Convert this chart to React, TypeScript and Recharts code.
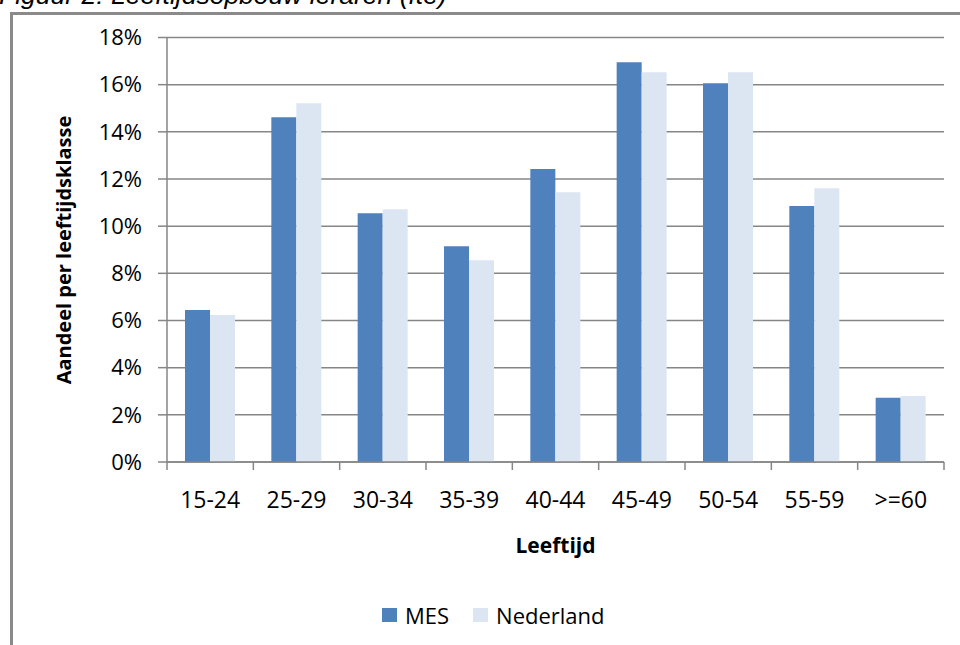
import React from "react";
import { BarChart, Bar, XAxis, YAxis, CartesianGrid, Label } from "recharts";

const categories = ["15-24", "25-29", "30-34", "35-39", "40-44", "45-49", "50-54", "55-59", ">=60"];
const mesValues = [6.44, 14.62, 10.55, 9.15, 12.42, 16.95, 16.06, 10.85, 2.72];
const nederlandValues = [6.23, 15.21, 10.72, 8.56, 11.44, 16.53, 16.53, 11.61, 2.8];
const yTicks = [0, 2, 4, 6, 8, 10, 12, 14, 16, 18];
const seriesNames = ["MES", "Nederland"];
const seriesColors = ["#4F81BD", "#DCE6F2"];

const FONT = "'Open Sans', sans-serif";
const GRID = "#868686";
const PLOT_LEFT = 167;
const PLOT_RIGHT = 944;
const HALF_BAND = (PLOT_RIGHT - PLOT_LEFT) / categories.length / 2;

const data = categories.map((c, i) => ({
  name: c,
  MES: mesValues[i],
  Nederland: nederlandValues[i],
}));

// Excel-style: tick marks between categories, label in the middle
function XTick(props: any) {
  const { x, y, payload, index } = props;
  return (
    <g>
      <line x1={x - HALF_BAND} x2={x - HALF_BAND} y1={y} y2={y + 8} stroke={GRID} strokeWidth={1.5} />
      {index === categories.length - 1 && (
        <line x1={x + HALF_BAND} x2={x + HALF_BAND} y1={y} y2={y + 8} stroke={GRID} strokeWidth={1.5} />
      )}
      <text x={x} y={y + 46} textAnchor="middle" fill="#000" fontSize={23} fontFamily={FONT}>
        {payload.value}
      </text>
    </g>
  );
}

export default function App() {
  return (
    <div style={{ position: "absolute", left: 0, top: 0, width: 960, height: 645, overflow: "hidden", background: "#fff" }}>
      <div
        style={{
          position: "absolute",
          left: -1,
          top: -20,
          fontFamily: "'Liberation Sans', Arial, sans-serif",
          fontStyle: "italic",
          fontSize: 26.5,
          lineHeight: "30px",
          whiteSpace: "nowrap",
          color: "#000",
        }}
      >
        Figuur 2: Leeftijdsopbouw leraren (fte)
      </div>
      <div
        style={{
          position: "absolute",
          left: 10,
          top: 12,
          width: 1000,
          height: 700,
          borderLeft: "3px solid #8a8a8a",
          borderTop: "3px solid #8a8a8a",
        }}
      />
      <div style={{ position: "absolute", left: 0, top: 0 }}>
        <BarChart
          width={960}
          height={645}
          data={data}
          margin={{ top: 37.5, right: 960 - PLOT_RIGHT, left: 0, bottom: 123 }}
          barCategoryGap={18}
          barGap={0}
        >
          <CartesianGrid vertical={false} stroke={GRID} strokeWidth={1.5} />
          <XAxis
            dataKey="name"
            height={60}
            axisLine={{ stroke: GRID, strokeWidth: 1.5 }}
            tickLine={false}
            tickSize={0}
            tickMargin={0}
            interval={0}
            tick={<XTick />}
          >
            <Label
              content={(p: any) => (
                <text
                  x={(PLOT_LEFT + PLOT_RIGHT) / 2}
                  y={553}
                  textAnchor="middle"
                  fontSize={21}
                  fontWeight="bold"
                  fontFamily={FONT}
                  fill="#000"
                >
                  Leeftijd
                </text>
              )}
            />
          </XAxis>
          <YAxis
            width={PLOT_LEFT}
            domain={[0, 18]}
            ticks={yTicks}
            interval={0}
            tickFormatter={(v) => `${v}%`}
            axisLine={{ stroke: GRID, strokeWidth: 1.5 }}
            tickLine={{ stroke: GRID, strokeWidth: 1.5 }}
            tickSize={9}
            tickMargin={16}
            tick={{ fill: "#000", fontSize: 22, fontFamily: FONT }}
          >
            <Label
              content={(p: any) => (
                <text
                  x={63}
                  y={250}
                  transform="rotate(-90 63 250)"
                  textAnchor="middle"
                  dominantBaseline="central"
                  fontSize={20}
                  fontWeight="bold"
                  fontFamily={FONT}
                  fill="#000"
                >
                  Aandeel per leeftijdsklasse
                </text>
              )}
            />
          </YAxis>
          {seriesNames.map((s, i) => (
            <Bar key={s} dataKey={s} fill={seriesColors[i]} isAnimationActive={false} />
          ))}
        </BarChart>
      </div>
      <div
        style={{
          position: "absolute",
          left: 382,
          top: 600,
          display: "flex",
          alignItems: "center",
          fontFamily: FONT,
          fontSize: 22,
          color: "#000",
        }}
      >
        {seriesNames.map((s, i) => (
          <div key={s} style={{ display: "flex", alignItems: "center", marginRight: i === 0 ? 24 : 0 }}>
            <span style={{ display: "inline-block", width: 15, height: 14, background: seriesColors[i], marginRight: 8 }} />
            <span>{s}</span>
          </div>
        ))}
      </div>
    </div>
  );
}
